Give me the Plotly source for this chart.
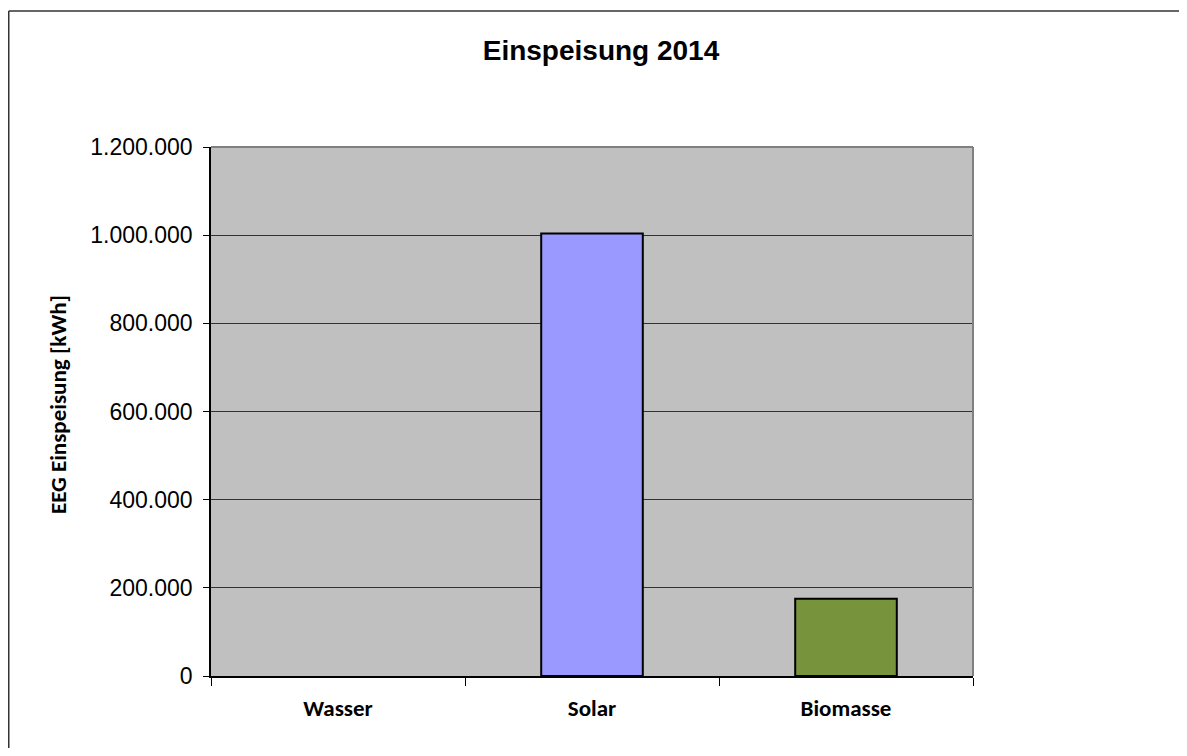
import plotly.graph_objects as go

categories = ["Wasser", "Solar", "Biomasse"]
values = [0, 1004000, 175000]
bar_colors = ["#9999FF", "#9999FF", "#77933C"]
y_tickvals = [0, 200000, 400000, 600000, 800000, 1000000, 1200000]

# page is shown with an 8px body margin, so figure coords = page coords - 8
OFF = 8
W, H = 1187 - 2 * OFF, 756 - 2 * OFF
L, T = 211 - OFF, 147 - OFF
R = W - (973 - OFF)
B = H - (676 - OFF)
pw, ph = W - L - R, H - T - B

def px_x(x):
    return (x - OFF - L) / pw

def px_y(y):
    return (H - B - (y - OFF)) / ph

fig = go.Figure()
fig.add_trace(go.Bar(
    x=categories, y=values,
    marker=dict(color=bar_colors,
                line=dict(color="black", width=[0 if v == 0 else 2 for v in values])),
    width=0.4,
    hoverinfo="x+y",
))

cal = "Carlito, Lato, Liberation Sans Narrow"
fig.update_layout(
    width=W, height=H,
    margin=dict(l=L, r=R, t=T, b=B, autoexpand=False),
    paper_bgcolor="white",
    plot_bgcolor="#C0C0C0",
    separators=",.",
    showlegend=False,
    title=dict(text="<b>Einspeisung 2014</b>", x=(601 - OFF) / W, xanchor="center",
               y=1 - (50 - OFF) / H, yanchor="middle",
               font=dict(family="Liberation Sans, Arial", size=28, color="black")),
    xaxis=dict(
        type="category", range=[-0.5, 2.5],
        tickson="boundaries", ticks="outside", ticklen=8, tickcolor="black", tickwidth=1,
        showline=True, linecolor="black", linewidth=1.5,
        showgrid=False,
        tickfont=dict(family=cal, size=23, color="black", weight="bold"),
        ticklabelstandoff=11,
    ),
    yaxis=dict(
        range=[0, 1200000], tickvals=y_tickvals, tickformat=",d",
        ticks="outside", ticklen=6, tickcolor="black", tickwidth=1,
        showline=True, linecolor="black", linewidth=1.5,
        showgrid=True, gridcolor="#333333", gridwidth=1,
        zeroline=False,
        tickfont=dict(family="Liberation Sans, Arial", size=23, color="black"),
        ticklabelstandoff=6,
    ),
    annotations=[dict(
        text="<b>EEG Einspeisung [kWh]</b>", textangle=-90,
        xref="paper", yref="paper", x=px_x(58), y=px_y(405),
        xanchor="center", yanchor="middle", showarrow=False,
        font=dict(family=cal, size=23, color="black"),
    )],
    shapes=[
        dict(type="line", xref="paper", yref="paper", x0=0, x1=1, y0=1, y1=1,
             line=dict(color="#808080", width=2)),
        dict(type="line", xref="paper", yref="paper", x0=1, x1=1, y0=0, y1=1,
             line=dict(color="#808080", width=2)),
        dict(type="line", xref="paper", yref="paper", x0=px_x(OFF + 0.75), x1=px_x(1200),
             y0=px_y(11), y1=px_y(11), line=dict(color="#333333", width=1.5)),
        dict(type="line", xref="paper", yref="paper", x0=px_x(OFF + 0.75), x1=px_x(OFF + 0.75),
             y0=px_y(11), y1=px_y(770), line=dict(color="#333333", width=1.5)),
    ],
)

fig.write_html("out.html")
